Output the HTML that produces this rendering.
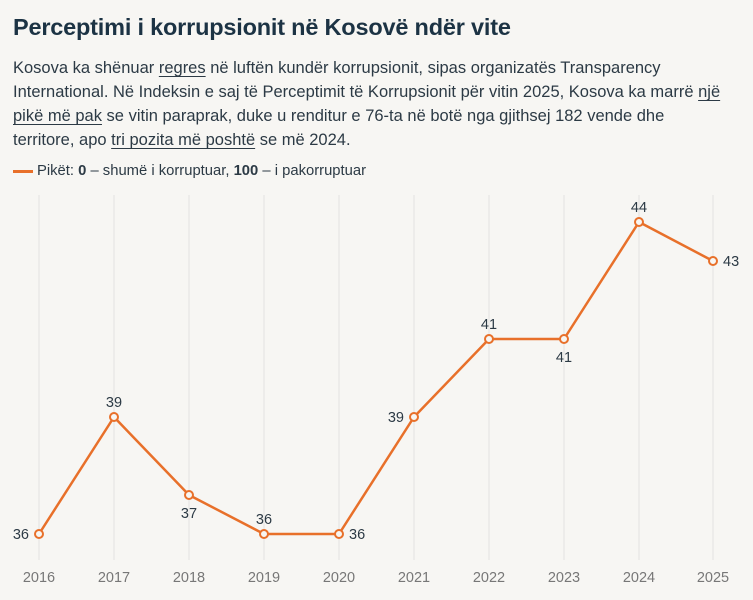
<!DOCTYPE html>
<html><head><meta charset="utf-8"><style>
html,body{margin:0;padding:0;background:#f7f6f3;}
body{width:753px;height:600px;overflow:hidden;font-family:"Liberation Sans",sans-serif;position:relative;}
h1{position:absolute;left:13px;top:14px;margin:0;font-size:23.5px;font-weight:bold;color:#1c3344;letter-spacing:-0.2px;white-space:nowrap;}
p{position:absolute;left:13px;top:56px;margin:0;width:740px;font-size:16.5px;line-height:24px;color:#2c3a45;white-space:nowrap;}
p u{text-decoration-thickness:1px;text-underline-offset:3px;}
.leg{position:absolute;left:13px;top:163px;font-size:14.8px;color:#2c3a45;white-space:nowrap;}
.leg span{display:inline-block;width:20px;height:3px;background:#e8702a;vertical-align:middle;margin-right:4px;}
svg{position:absolute;left:0;top:0;}
</style></head><body>
<h1>Perceptimi i korrupsionit në Kosovë ndër vite</h1>
<p>Kosova ka shënuar <u>regres</u> në luftën kundër korrupsionit, sipas organizatës Transparency<br>International. Në Indeksin e saj të Perceptimit të Korrupsionit për vitin 2025, Kosova ka marrë <u>një</u><br><u>pikë më pak</u> se vitin paraprak, duke u renditur e 76-ta në botë nga gjithsej 182 vende dhe<br>territore, apo <u>tri pozita më poshtë</u> se më 2024.</p>
<div class="leg"><span></span>Pikët: <b>0</b> – shumë i korruptuar, <b>100</b> – i pakorruptuar</div>
<svg width="753" height="600" font-family="Liberation Sans, sans-serif">
<g stroke="#e3e3e1" stroke-width="1">
<line x1="39" y1="195" x2="39" y2="560"/><line x1="114" y1="195" x2="114" y2="560"/><line x1="189" y1="195" x2="189" y2="560"/><line x1="264" y1="195" x2="264" y2="560"/><line x1="339" y1="195" x2="339" y2="560"/><line x1="414" y1="195" x2="414" y2="560"/><line x1="489" y1="195" x2="489" y2="560"/><line x1="564" y1="195" x2="564" y2="560"/><line x1="639" y1="195" x2="639" y2="560"/><line x1="713" y1="195" x2="713" y2="560"/>
</g>
<g font-size="14.5" fill="#777" text-anchor="middle">
<text x="39" y="582">2016</text><text x="114" y="582">2017</text><text x="189" y="582">2018</text><text x="264" y="582">2019</text><text x="339" y="582">2020</text><text x="414" y="582">2021</text><text x="489" y="582">2022</text><text x="564" y="582">2023</text><text x="639" y="582">2024</text><text x="713" y="582">2025</text>
</g>
<polyline fill="none" stroke="#e8702a" stroke-width="2.5" stroke-linejoin="round" points="39,534 114,417 189,495 264,534 339,534 414,417 489,339 564,339 639,222 713,261"/>
<g fill="#f7f6f3" stroke="#e8702a" stroke-width="2">
<circle cx="39" cy="534" r="4"/><circle cx="114" cy="417" r="4"/><circle cx="189" cy="495" r="4"/><circle cx="264" cy="534" r="4"/><circle cx="339" cy="534" r="4"/><circle cx="414" cy="417" r="4"/><circle cx="489" cy="339" r="4"/><circle cx="564" cy="339" r="4"/><circle cx="639" cy="222" r="4"/><circle cx="713" cy="261" r="4"/>
</g>
<g font-size="14.5" fill="#2c3a45">
<text x="29" y="539" text-anchor="end">36</text>
<text x="114" y="407" text-anchor="middle">39</text>
<text x="189" y="518" text-anchor="middle">37</text>
<text x="264" y="524" text-anchor="middle">36</text>
<text x="349" y="539">36</text>
<text x="404" y="422" text-anchor="end">39</text>
<text x="489" y="329" text-anchor="middle">41</text>
<text x="564" y="362" text-anchor="middle">41</text>
<text x="639" y="212" text-anchor="middle">44</text>
<text x="723" y="266">43</text>
</g>
</svg>
</body></html>
